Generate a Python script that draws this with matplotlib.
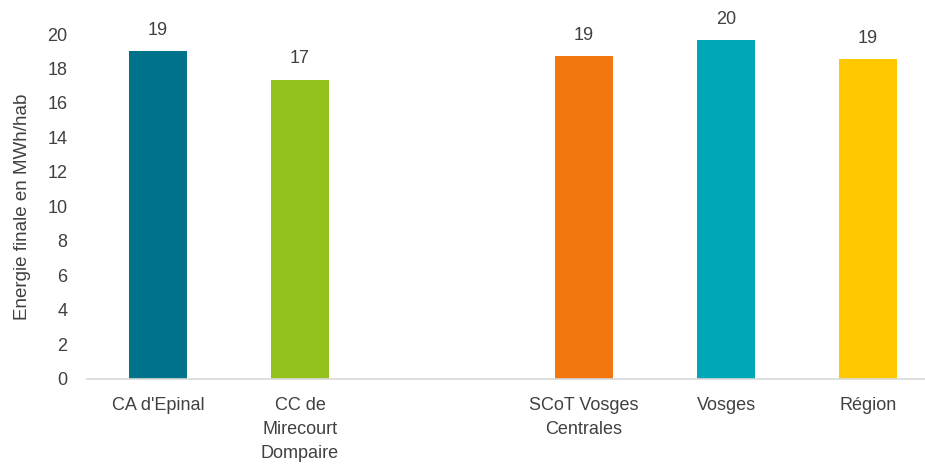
import numpy as np
import matplotlib.pyplot as plt

plt.rcParams['font.family'] = ['Liberation Sans', 'DejaVu Sans']

categories = ["CA d'Epinal", "CC de\nMirecourt\nDompaire", "", "SCoT Vosges\nCentrales", "Vosges", "Région"]
values = [19.0, 17.35, np.nan, 18.7, 19.65, 18.55]
colors = ["#00728A", "#95C11F", "#FFFFFF", "#F3770F", "#00A8B7", "#FFC800"]
yticks = [0, 2, 4, 6, 8, 10, 12, 14, 16, 18, 20]

fig = plt.figure(figsize=(9.25, 4.66), dpi=100)
ax = fig.add_axes([0.094, 0.187, 0.906, 0.74])

x = np.arange(len(categories))
heights = np.nan_to_num(values)
bars = ax.bar(x, heights, width=0.41, color=colors)

for xi, v in zip(x, values):
    if np.isnan(v):
        continue
    ax.annotate(f"{v:.0f}", (xi, v), xytext=(0, 9), textcoords="offset points",
                ha="center", va="bottom", fontsize=13, color="#404040")

ax.set_xlim(-0.5, 5.4)
ax.set_ylim(0, 20)
ax.set_yticks(yticks)
ax.set_xticks(x)
ax.set_xticklabels(categories, linespacing=1.55)
ax.tick_params(axis="both", length=0, labelsize=13, labelcolor="#404040")
ax.tick_params(axis="x", pad=13)
ax.tick_params(axis="y", pad=14)

for side in ["top", "right", "left"]:
    ax.spines[side].set_visible(False)
ax.spines["bottom"].set_color("#D9D9D9")
ax.spines["bottom"].set_linewidth(1.2)

ax.set_ylabel("Energie finale en MWh/hab", fontsize=13.5, color="#404040", labelpad=12)

fig.savefig("out.png", dpi=100)
